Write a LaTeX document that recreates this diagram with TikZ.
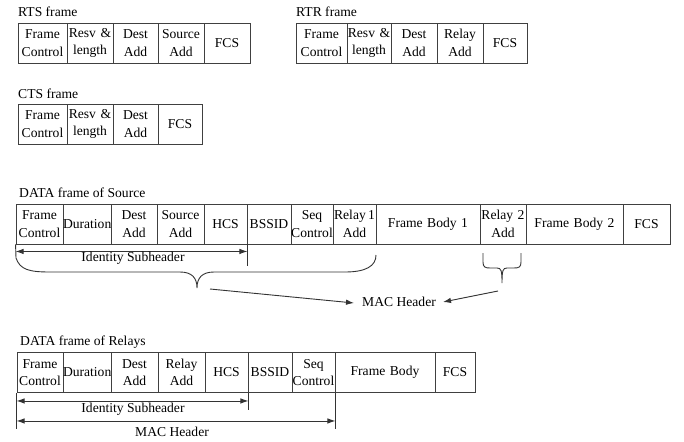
\documentclass[tikz,border=0pt]{standalone}
\usepackage{fontspec}
\setmainfont{Liberation Serif}
\usetikzlibrary{arrows.meta,calc}
\begin{document}
\begin{tikzpicture}[x=1pt,y=-1pt,
  fnt/.style={font=\fontsize{13.6}{17.5}\selectfont},
  cell/.style={draw=black!75, line width=0.9pt, inner sep=0pt, text width=#1, align=center, minimum height=40pt, fnt},
  ttl/.style={anchor=west, inner sep=0pt, fnt},
  lbl/.style={inner sep=0pt, fnt},
  ln/.style={draw=black!80, line width=0.9pt},
  arr/.style={ln, {Latex[length=8pt,width=5.5pt]}-{Latex[length=8pt,width=5.5pt]}},
  one/.style={ln, -{Latex[length=8pt,width=5.5pt]}}]
\useasboundingbox (0,0) rectangle (684,441);

% RTS frame
\node[ttl] (rtst) at (18,12) {RTS frame};
\node[cell=49pt] (r1) at (42.5,43) {Frame\\Control};
\node[cell=46pt] (r2) at (90,43) {Resv \&\\length};
\node[cell=45pt] (r3) at (135.5,43) {Dest\\Add};
\node[cell=46pt] (r4) at (181,43) {Source\\Add};
\node[cell=46pt] (r5) at (227,43) {FCS};

% RTR frame
\node[ttl] (rtrt) at (296,12) {RTR frame};
\node[cell=51pt] (t1) at (321.5,43) {Frame\\Control};
\node[cell=44pt] (t2) at (369,43) {Resv \&\\length};
\node[cell=46pt] (t3) at (414,43) {Dest\\Add};
\node[cell=46pt] (t4) at (460,43) {Relay\\Add};
\node[cell=44pt] (t5) at (505,43) {FCS};

% CTS frame
\node[ttl] (ctst) at (18,94) {CTS frame};
\node[cell=49pt] (c1) at (42.5,124) {Frame\\Control};
\node[cell=46pt] (c2) at (90,124) {Resv \&\\length};
\node[cell=45pt] (c3) at (135.5,124) {Dest\\Add};
\node[cell=44pt] (c4) at (180,124) {FCS};

% DATA frame of Source
\node[ttl] (srct) at (19,193) {DATA frame of Source};
\begin{scope}[every node/.append style={minimum height=38pt}]
\node[cell=47pt] (s1) at (39.5,224) {Frame\\Control};
\node[cell=48pt] (s2) at (87,224) {Duration};
\node[cell=46pt] (s3) at (134,224) {Dest\\Add};
\node[cell=47pt] (s4) at (180.5,224) {Source\\Add};
\node[cell=43pt] (s5) at (225.5,224) {HCS};
\node[cell=44pt] (s6) at (269,224) {BSSID};
\node[cell=42pt] (s7) at (312,224) {Seq\\Control};
\node[cell=43pt] (s8) at (354.5,224) {Relay\,1\\Add};
\node[cell=104pt] (s9) at (428,224) {Frame Body 1};
\node[cell=46pt] (s10) at (503,224) {Relay 2\\Add};
\node[cell=97pt] (s11) at (574.5,224) {Frame Body 2};
\node[cell=47pt] (s12) at (646.5,224) {FCS};
\end{scope}

\draw[ln] (s5.south east) -- ++(0,22);
\draw[arr] ([yshift=-7pt]s1.south west) -- ([yshift=-7pt]s5.south east);
\node[lbl] (sid) at (133,258) {Identity Subheader};

% big brace
\coordinate (bA) at (16,258);
\coordinate (bTip) at (197,288);
\coordinate (bB) at (376,255);
\draw[ln] (s1.south west) -- (bA)
  .. controls (20,270) and (30,272) .. (50,272) -- (180,272)
  .. controls (192,272) and (197,278) .. (bTip)
  .. controls (197,278) and (202,272) .. (214,272) -- (345,272)
  .. controls (366,272) and (376,266) .. (bB);

% small brace
\coordinate (cA) at (483,253);
\coordinate (cTip) at (502,283);
\coordinate (cB) at (521,253);
\draw[ln] (cA) -- (483,262) .. controls (483,267) and (485,268) .. (490,268) -- (497,268)
  .. controls (501,268) and (502,270) .. (cTip)
  .. controls (502,270) and (503,268) .. (507,268) -- (514,268)
  .. controls (519,268) and (521,267) .. (521,262) -- (cB);

\node[lbl] (mac) at (399,302) {MAC Header};
\coordinate (m1) at (210,289);
\coordinate (m2) at (498,291);
\draw[one] (m1) -- ([xshift=-8pt,yshift=-1pt]mac.west);
\draw[one] (m2) -- ([xshift=7pt]mac.east);

% DATA frame of Relays
\node[ttl] (relt) at (20,342) {DATA frame of Relays};
\begin{scope}[every node/.append style={minimum height=39pt}]
\node[cell=46pt] (d1) at (40,372.5) {Frame\\Control};
\node[cell=48pt] (d2) at (87,372.5) {Duration};
\node[cell=47pt] (d3) at (134.5,372.5) {Dest\\Add};
\node[cell=47pt] (d4) at (181.5,372.5) {Relay\\Add};
\node[cell=43pt] (d5) at (226.5,372.5) {HCS};
\node[cell=44pt] (d6) at (270,372.5) {BSSID};
\node[cell=43pt] (d7) at (313.5,372.5) {Seq\\Control};
\node[cell=100pt] (d8) at (385,372.5) {Frame Body};
\node[cell=40pt] (d9) at (455,372.5) {FCS};
\end{scope}

\draw[ln] (d1.south west) -- ++(0,36);
\draw[ln] (d5.south east) -- ++(0,17);
\draw[ln] (d7.south east) -- ++(0,36);
\draw[arr] ([yshift=-8pt]d1.south west) -- ([yshift=-8pt]d5.south east);
\draw[arr] ([yshift=-28pt]d1.south west) -- ([yshift=-28pt]d7.south east);
\node[lbl] (rid) at (133,409) {Identity Subheader};
\node[lbl] (rmac) at (172,432) {MAC Header};
\end{tikzpicture}
\end{document}
